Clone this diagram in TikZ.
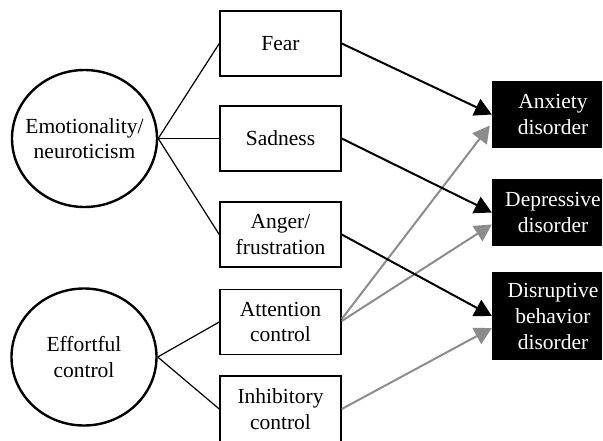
\documentclass[tikz,border=0pt]{standalone}
\usepackage{fontspec}
\setmainfont{Liberation Serif}
\newfontfamily\tnr{Liberation Serif}
\usetikzlibrary{shapes.geometric,arrows.meta,calc}
\definecolor{arrgray}{HTML}{8C8C8C}
\begin{document}
\begin{tikzpicture}[x=1pt,y=-1pt,
  every node/.style={font=\tnr\fontsize{21.5}{25.5}\selectfont, align=center, inner sep=0pt},
  latent/.style={ellipse, draw, line width=2.4pt, minimum width=145pt, minimum height=137pt},
  facet/.style={rectangle, draw, line width=1.5pt, minimum width=121pt, minimum height=65pt},
  outcome/.style={rectangle, fill=black, minimum width=110pt},
  wtext/.style={text=white, font=\tnr\fontsize{21.5}{26}\selectfont},
  link/.style={line width=1.2pt},
  blackarr/.style={line width=2pt, -{Triangle[length=17pt,width=18pt]}},
  grayarr/.style={line width=2pt, draw=arrgray, -{Triangle[length=17pt,width=18pt]}, arrgray}
]
\useasboundingbox (0,0) rectangle (603,440);
\node[latent] (emo) at (84.5,138.5) {};
\node (emot) at (emo.center) {Emotionality/\\neuroticism};
\node[latent] (eff) at (84,357) {};
\node (efft) at (eff.center) {Effortful\\control};
\node[facet] (fear) at (280.5,43.5) {Fear};
\node[facet] (sad) at (280.5,138.5) {Sadness};
\node[facet] (anger) at (280.5,234.5) {Anger/\\frustration};
\node[facet] (att) at (280.5,322) {Attention\\control};
\node[facet, minimum height=66pt] (inh) at (280.5,409) {Inhibitory\\control};
\node[outcome, minimum height=67pt] (anx) at (547,114.5) {};
\node[wtext] (anxt) at ($(anx.center)+(6,0)$) {Anxiety\\disorder};
\node[outcome, minimum height=67pt] (dep) at (547,212.5) {};
\node[wtext] (dept) at ($(dep.center)+(6,0)$) {Depressive\\disorder};
\node[outcome, minimum height=88pt] (dis) at (547,316) {};
\node[wtext] (dist) at ($(dis.center)+(6,0)$) {Disruptive\\behavior\\disorder};
\draw[link] (emo.east) -- (fear.west);
\draw[link] (emo.east) -- (sad.west);
\draw[link] (emo.east) -- (anger.west);
\draw[link] (eff.east) -- (att.west);
\draw[link] (eff.east) -- (inh.west);
\coordinate (anxg) at ($(anx.west)+(-2,11)$);
\coordinate (depg) at ($(dep.west)+(0,12)$);
\coordinate (disg) at ($(dis.west)+(0,12)$);
\coordinate (attA) at ($(att.east)+(0,-3)$);
\coordinate (attB) at ($(att.east)+(0,-1)$);
\draw[grayarr] (attA) -- (anxg);
\draw[grayarr] (attB) -- (depg);
\draw[grayarr] (inh.east) -- (disg);
\draw[blackarr] (fear.east) -- (anx.west);
\draw[blackarr] (sad.east) -- (dep.west);
\draw[blackarr] (anger.east) -- (dis.west);
\end{tikzpicture}
\end{document}
